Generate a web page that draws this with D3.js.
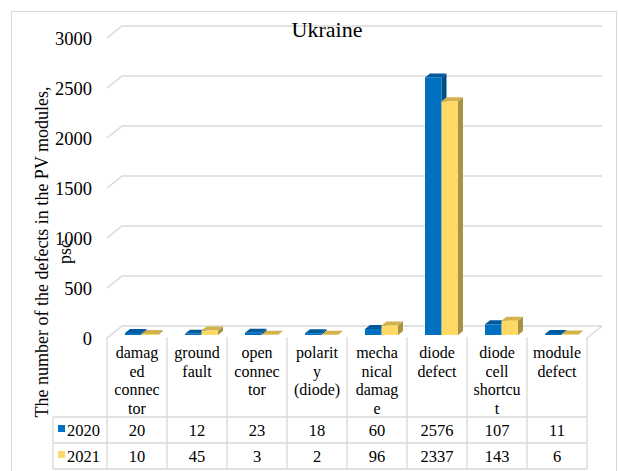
<!DOCTYPE html>
<html>
<head>
<meta charset="utf-8">
<script src="https://cdn.jsdelivr.net/npm/d3@7"></script>
<style>
  body { margin: 0; background: #fff; }
</style>
</head>
<body>
<div id="chart"></div>
<script>
// chart values
var categories = ["damaged connector", "ground fault", "open connector", "polarity (diode)",
  "mechanical damage", "diode defect", "diode cell shortcut", "module defect"];
// category labels as wrapped in the data table
var catLines = [["damag", "ed", "connec", "tor"], ["ground", "fault"], ["open", "connec", "tor"],
  ["polarit", "y", "(diode)"], ["mecha", "nical", "damag", "e"], ["diode", "defect"],
  ["diode", "cell", "shortcu", "t"], ["module", "defect"]];
var seriesNames = ["2020", "2021"];
var values2020 = [20, 12, 23, 18, 60, 2576, 107, 11];
var values2021 = [10, 45, 3, 2, 96, 2337, 143, 6];
var yTicks = [0, 500, 1000, 1500, 2000, 2500, 3000];

var W = 618, H = 471;
var depthX = 15, depthY = 12;   // floor / wall depth
var barDX = 5, barDY = 4;       // bar depth

var svg = d3.select("#chart").append("svg")
  .attr("width", W).attr("height", H);

// every label goes through here so the serif face is set inline
function label(sel, size) {
  return sel.append("text")
    .style("font-family", "'Liberation Serif'")
    .style("font-size", size + "px")
    .style("fill", "#000");
}

// outer chart border
svg.append("rect")
  .attr("x", 11.5).attr("y", 11.5).attr("width", 605).attr("height", 470)
  .attr("fill", "none").attr("stroke", "#d9d9d9");

var x = d3.scaleBand().domain(categories).range([107, 587]).paddingInner(0).paddingOuter(0);
// back wall scale
var y = d3.scaleLinear().domain([0, 3000]).range([326, 26]);
var frontOff = 9; // bars sit in the middle of the depth

// gridlines with diagonal stub
var grid = svg.append("g");
yTicks.forEach(function(t) {
  var yb = y(t);
  grid.append("path")
    .attr("d", "M" + (x.range()[0]) + "," + (yb + depthY) + "L" + (x.range()[0] + depthX) + "," + yb +
      "L" + (x.range()[1] + depthX) + "," + yb)
    .attr("fill", "none").attr("stroke", "#d9d9d9").attr("stroke-width", 1.6);
  label(svg, 18.5)
    .attr("x", 92).attr("y", yb + depthY + 7)
    .attr("text-anchor", "end")
    .text(t);
});
// floor right diagonal
grid.append("path")
  .attr("d", "M" + x.range()[1] + "," + (y(0) + depthY) + "L" + (x.range()[1] + depthX) + "," + y(0))
  .attr("fill", "none").attr("stroke", "#d9d9d9").attr("stroke-width", 1.2);

// bars
var colors = [
  {front: "#0070c0", side: "#004f88", top: "#005a9c"},
  {front: "#ffd966", side: "#a89243", top: "#d1b24d"}
];
var series = [values2020, values2021];
var barW = 16.5, barOff = 18;
var bars = svg.append("g");
series.forEach(function(vals, si) {
  var c = colors[si];
  var g = bars.selectAll(null).data(vals).enter().append("g");
  g.each(function(v, i) {
    var gg = d3.select(this);
    var x0 = x(categories[i]) + barOff + si * barW;
    var x1 = x0 + barW;
    var yb = y(0) + frontOff;
    var yt = y(v) + frontOff;
    // side
    gg.append("path")
      .attr("d", "M" + x1 + "," + yb + "L" + (x1 + barDX) + "," + (yb - barDY) + "L" + (x1 + barDX) + "," + (yt - barDY) + "L" + x1 + "," + yt + "Z")
      .attr("fill", c.side);
    // top
    gg.append("path")
      .attr("d", "M" + x0 + "," + yt + "L" + (x0 + barDX) + "," + (yt - barDY) + "L" + (x1 + barDX) + "," + (yt - barDY) + "L" + x1 + "," + yt + "Z")
      .attr("fill", c.top);
    // front
    gg.append("rect")
      .attr("x", x0).attr("y", yt).attr("width", barW).attr("height", Math.max(0, yb - yt))
      .attr("fill", c.front);
  });
});

// data table
var tTop = y(0) + depthY - 1, tCatBottom = 417, row1 = 443, row2 = 469, legLeft = 53;
var tbl = svg.append("g").attr("stroke", "#d9d9d9").attr("stroke-width", 1.3);
categories.concat(["end"]).forEach(function(c, i) {
  var xx = x.range()[0] + i * x.bandwidth();
  tbl.append("line").attr("x1", xx).attr("x2", xx).attr("y1", tTop).attr("y2", row2);
});
tbl.append("line").attr("x1", legLeft).attr("x2", legLeft).attr("y1", tCatBottom).attr("y2", row2);
[tCatBottom, row1, row2].forEach(function(yy) {
  tbl.append("line").attr("x1", legLeft).attr("x2", x.range()[1]).attr("y1", yy).attr("y2", yy);
});

// category labels
catLines.forEach(function(lines, i) {
  var cx = x(categories[i]) + x.bandwidth() / 2;
  var t = label(svg, 16).attr("text-anchor", "middle");
  lines.forEach(function(l, j) {
    t.append("tspan").attr("x", cx).attr("y", 358 + j * 18.5).text(l);
  });
});

// values rows
[row1, row2].forEach(function(rb, si) {
  series[si].forEach(function(v, i) {
    label(svg, 16.5)
      .attr("x", x(categories[i]) + x.bandwidth() / 2).attr("y", rb - 7.5)
      .attr("text-anchor", "middle")
      .text(v);
  });
  svg.append("rect")
    .attr("x", 58).attr("y", rb - 18).attr("width", 7).attr("height", 7)
    .attr("fill", colors[si].front);
  label(svg, 16.5)
    .attr("x", 67).attr("y", rb - 7.5)
    .text(seriesNames[si]);
});

// title
label(svg, 22)
  .attr("x", 327).attr("y", 37).attr("text-anchor", "middle")
  .text("Ukraine");

// y axis title
var yt = label(svg, 18)
  .attr("transform", "translate(0,252) rotate(-90)")
  .attr("text-anchor", "middle");
yt.append("tspan").attr("x", 0).attr("y", 48).text("The number of the defects in the PV modules,");
yt.append("tspan").attr("x", 0).attr("y", 71).text("psc");
</script>
</body>
</html>
